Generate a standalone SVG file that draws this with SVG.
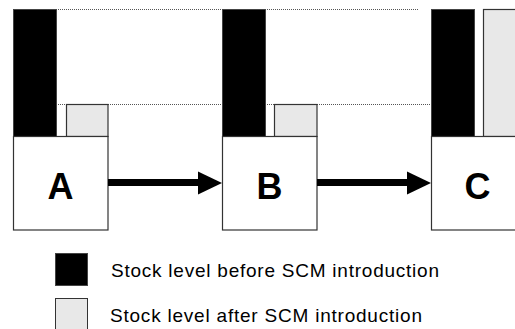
<svg xmlns="http://www.w3.org/2000/svg" width="515" height="329" viewBox="0 0 515 329">
<style>
.box{fill:#fff;stroke:#333;stroke-width:1.2}
.before{fill:#000;stroke:#444;stroke-width:1}
.after{fill:#e8e8e8;stroke:#333;stroke-width:1.2}
.dot{stroke:#555;stroke-width:1;stroke-dasharray:1 1;fill:none}
.lbl{font-family:"Liberation Sans",Arial,sans-serif;font-weight:bold;font-size:36px;text-anchor:middle;fill:#000}
.leg{font-family:"Liberation Sans",Arial,sans-serif;font-size:19px;fill:#000}
.arr{stroke:#000;stroke-width:7;fill:none}
</style>
<rect width="515" height="329" fill="#fff"/>
<g id="guides">
<line class="dot" x1="56" y1="9.5" x2="222" y2="9.5"/>
<line class="dot" x1="265" y1="9.5" x2="419" y2="9.5"/>
<line class="dot" x1="56" y1="104.5" x2="222" y2="104.5"/>
<line class="dot" x1="265" y1="104.5" x2="431" y2="104.5"/>
</g>
<g id="nodeA">
<rect class="before" x="13.5" y="9.5" width="43" height="127"/>
<rect class="after" x="66.5" y="104.5" width="41.5" height="32"/>
<line x1="56" y1="136.5" x2="66" y2="136.5" stroke="#666" stroke-width="1"/>
<rect class="box" x="13.5" y="136.5" width="94.5" height="93.5"/>
<text class="lbl" x="60.5" y="199">A</text>
</g>
<g id="nodeB">
<rect class="before" x="222.5" y="9.5" width="43" height="127"/>
<rect class="after" x="274.5" y="104.5" width="42.5" height="32"/>
<line x1="265" y1="136.5" x2="274" y2="136.5" stroke="#666" stroke-width="1"/>
<rect class="box" x="222.5" y="136.5" width="94.5" height="93.5"/>
<text class="lbl" x="269.5" y="199">B</text>
</g>
<g id="nodeC">
<rect class="before" x="431.5" y="9.5" width="43" height="127"/>
<rect class="after" x="483.5" y="9.5" width="43" height="127"/>
<line x1="474" y1="136.5" x2="483" y2="136.5" stroke="#666" stroke-width="1"/>
<rect class="box" x="431.5" y="136.5" width="94.5" height="93.5"/>
<text class="lbl" x="477.5" y="199">C</text>
</g>
<g id="connectors">
<line class="arr" x1="108" y1="182.5" x2="200" y2="182.5"/>
<polygon points="198,171.5 222,183 198,194.5" fill="#000"/>
<line class="arr" x1="317" y1="182.5" x2="409" y2="182.5"/>
<polygon points="407,171.5 431,183 407,194.5" fill="#000"/>
</g>
<g id="legend">
<rect x="55.5" y="253.5" width="32" height="32" fill="#000" stroke="#444" stroke-width="1"/>
<text class="leg" x="111" y="277" textLength="328" lengthAdjust="spacing">Stock level before SCM introduction</text>
<rect x="55.5" y="298.5" width="32" height="32" fill="#e8e8e8" stroke="#333" stroke-width="1"/>
<text class="leg" x="110" y="322" textLength="312" lengthAdjust="spacing">Stock level after SCM introduction</text>
</g>
</svg>
